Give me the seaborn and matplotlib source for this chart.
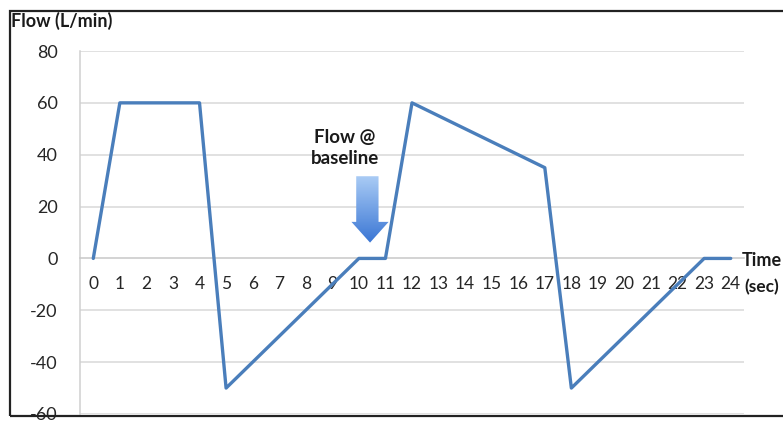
import numpy as np
import pandas as pd
import matplotlib
matplotlib.use("Agg")
import matplotlib.pyplot as plt
import seaborn as sns
from matplotlib.patches import Polygon, Rectangle

# flow waveform, one value per second
time_sec = list(range(25))
time_pts = [0, 1, 4, 5, 10, 11, 12, 17, 18, 23, 24]
flow_pts = [0, 60, 60, -50, 0, 0, 60, 35, -50, 0, 0]
y_ticks = [-60, -40, -20, 0, 20, 40, 60, 80]

sns.set_style("white")
plt.rcParams["font.family"] = ["Lato", "DejaVu Sans"]

df = pd.DataFrame({"time": time_pts, "flow": flow_pts})

fig = plt.figure(figsize=(7.83, 4.24), dpi=100)
ax = fig.add_axes([80 / 783, 10 / 424, 664 / 783, 363 / 424])

sns.lineplot(data=df, x="time", y="flow", estimator=None, sort=False,
             color="#4a7ebb", linewidth=2.4, ax=ax, zorder=3)

ax.set_xlabel("")
ax.set_ylabel("")

# grid
for v in y_ticks:
    if v != 0:
        ax.axhline(v, color="#d9d9d9", linewidth=1.1, zorder=1)

for s in ["top", "right"]:
    ax.spines[s].set_visible(False)
ax.spines["left"].set_color("#d0d0d0")
ax.spines["left"].set_linewidth(1.1)
ax.spines["bottom"].set_position(("data", 0))
ax.spines["bottom"].set_color("#c8c8c8")
ax.spines["bottom"].set_linewidth(1.1)

ax.set_yticks(y_ticks)
ax.set_yticklabels([str(v) for v in y_ticks])
ax.tick_params(axis="y", length=4, color="#d0d0d0", pad=12, labelsize=13,
               labelcolor="#262626")

ax.set_xticks(time_sec)
ax.set_xticklabels([str(t) for t in time_sec])
ax.set_xticks(np.arange(-0.5, 25, 1), minor=True)
ax.tick_params(axis="x", which="major", length=0, pad=13, labelsize=12.5,
               labelcolor="#262626")
ax.tick_params(axis="x", which="minor", length=5, color="#c8c8c8",
               direction="out")

# gradient arrow pointing at the baseline
arrow_xy = [(9.9, 31.7), (10.74, 31.7), (10.74, 14.1), (11.12, 14.1),
            (10.42, 6.1), (9.72, 14.1), (9.9, 14.1)]
arrow = Polygon(arrow_xy, closed=True, facecolor="none", edgecolor="none")
ax.add_patch(arrow)
cmap = matplotlib.colors.LinearSegmentedColormap.from_list(
    "arr", ["#3a76d4", "#a9cbf5"])
grad = np.linspace(0, 1, 100).reshape(-1, 1)
im = ax.imshow(grad, cmap=cmap, aspect="auto", origin="lower",
               extent=[9.72, 11.12, 6.1, 31.7], zorder=2)
im.set_clip_path(arrow)
ax.set_xlim(-0.5, 24.5)
ax.set_ylim(-60, 80)

ax.text(9.47, 42.5, "Flow @\nbaseline", ha="center", va="center",
        fontsize=13.5, fontweight="bold", color="#1a1a1a", linespacing=1.3)

# labels outside the axes
fig.text(11 / 783, 1 - 21 / 424, "Flow (L/min)", ha="left", va="center",
         fontsize=13, fontweight="bold", color="#1a1a1a")
fig.text(742 / 783, 1 - 260 / 424, "Time", ha="left", va="center",
         fontsize=13, fontweight="bold", color="#1a1a1a")
fig.text(744 / 783, 1 - 287 / 424, "(sec)", ha="left", va="center",
         fontsize=12.5, fontweight="bold", color="#1a1a1a")

# outer frame
fig.patches.append(Rectangle((10 / 783, 8 / 424), 1.0, 1 - 19 / 424,
                             transform=fig.transFigure, fill=False,
                             edgecolor="#222222", linewidth=1.6))

fig.savefig("out.png", dpi=100)
